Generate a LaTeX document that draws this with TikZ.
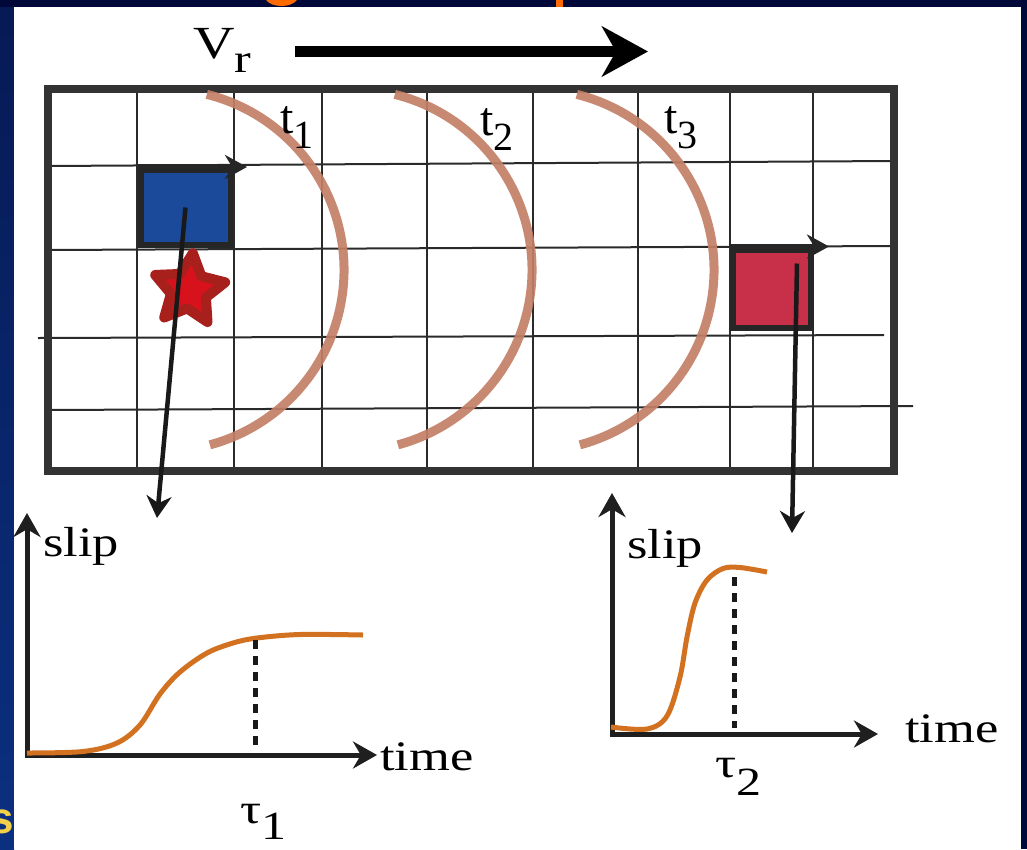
\documentclass[tikz,border=0pt]{standalone}
\usepackage{fontspec}
\newfontfamily\figfont{Liberation Serif}[FakeStretch=1.25]
\newfontfamily\plainfont{Liberation Serif}
\newfontfamily\slidefont{Liberation Sans}
\usetikzlibrary{arrows.meta,positioning,shapes.geometric,calc}
\definecolor{slidebg}{HTML}{00083A}
\definecolor{stripdark}{HTML}{061A55}
\definecolor{striplight}{HTML}{0B3080}
\definecolor{titleorange}{HTML}{FF6A00}
\definecolor{titleyellow}{HTML}{F2D04A}
\definecolor{gridgray}{HTML}{2A2A2A}
\definecolor{framegray}{HTML}{333333}
\definecolor{arcbrown}{HTML}{C47F66}
\definecolor{srcblue}{HTML}{1B4A9A}
\definecolor{rcvred}{HTML}{C8304A}
\definecolor{starred}{HTML}{D8121C}
\definecolor{stardark}{HTML}{A8201C}
\definecolor{sliporange}{HTML}{D2711F}
\newcommand{\axisfont}{\figfont\fontsize{42}{46}\selectfont}
\newcommand{\wavefont}{\plainfont\fontsize{48}{52}\selectfont}
\newcommand{\lowsub}[2]{\raisebox{-#1pt}{\fontsize{40}{44}\selectfont#2}}

\begin{document}
\begin{tikzpicture}[x=1pt,y=-1pt,
  >={Stealth[length=22pt,width=25pt]},
  lbl/.style={anchor=base west, inner sep=0pt, font=\axisfont},
  gridline/.style={draw=gridgray, line width=2pt},
  frame/.style={draw=framegray, line width=8pt, minimum width=846pt, minimum height=382pt, inner sep=0pt},
  front/.style={draw=arcbrown, line width=9pt, opacity=0.92},
  station/.style={draw=black!85, line width=6pt, inner sep=0pt},
  edgearrow/.style={draw=black!85, line width=6pt, -{Stealth[length=22pt,width=24pt]}},
  pointer/.style={draw=black!90, line width=4.5pt, ->},
  axis/.style={draw=black!88, line width=5pt, line join=miter, {Stealth[length=24pt,width=27pt]}-{Stealth[length=24pt,width=27pt]}},
  slipcurve/.style={draw=sliporange, line width=5pt, smooth, tension=0.55},
  marker/.style={draw=black!90, line width=5pt, dash pattern=on 9pt off 7pt},
]
\useasboundingbox (0,0) rectangle (1027,849);
\fill[slidebg] (0,0) rectangle (1027,849);
\shade[top color=stripdark, bottom color=striplight] (0,7) rectangle (14,849);
\fill[white] (14,7) rectangle (1021,849);
\fill[titleorange] (266,0) .. controls (272,8) and (291,8) .. (297,0) -- cycle;
\fill[titleorange] (556,0) rectangle (563,7);
\begin{scope}
  \clip (0,7) rectangle (14,849);
  \node[anchor=base west, inner sep=0pt, text=titleyellow, font=\slidefont\bfseries\fontsize{44}{48}\selectfont] (titles) at (-11,833) {s};
\end{scope}

\node[lbl, font=\figfont\fontsize{46}{50}\selectfont] (vr) at (193,58) {V\lowsub{14}{r}};
\coordinate (vrs) at (295,51.5);
\coordinate (vre) at (648,51.5);
\draw[line width=11pt, -{Stealth[length=46pt,width=50pt,inset=14pt]}] (vrs) -- (vre);

\foreach \gx in {137,234,322,427,533,638,730,813}
  \draw[gridline] (\gx,89) -- (\gx,471);
\draw[gridline] (48,166) -- (894,161);
\draw[gridline] (48,250) -- (894,246);
\draw[gridline] (38,338) -- (884,335);
\draw[gridline] (48,410) -- (913,406);
\node[frame] (fault) at (471,280) {};

\foreach \cx in {163,351,533}
  \draw[front] (\cx,270) ++(-76:181) arc[start angle=-76, end angle=75, radius=181];
\node[lbl, font=\wavefont] (t1) at (280,133) {t\lowsub{15}{1}};
\node[lbl, font=\wavefont] (t2) at (480,135) {t\lowsub{15}{2}};
\node[lbl, font=\wavefont] (t3) at (664,133) {t\lowsub{15}{3}};

\node[station, fill=srcblue, minimum width=90pt, minimum height=75pt] (src) at (185.5,207.5) {};
\node[station, fill=rcvred, minimum width=78pt, minimum height=78pt] (rcv) at (772,288.5) {};
\coordinate (srctip) at (247,170);
\coordinate (rcvtip) at (829,249.5);
\draw[edgearrow] (src.north west) -- (src.north west -| srctip);
\draw[edgearrow] (rcv.north west) -- (rcv.north west -| rcvtip);
\node[star, star points=5, star point ratio=2.0, minimum size=74pt, inner sep=0pt,
  fill=starred, draw=stardark, line width=10pt, line join=round, rotate=-6] (epi) at (189,290) {};

\coordinate (o1) at (27,755);
\coordinate (y1) at (27,513);
\coordinate (x1) at (377,755);
\coordinate (o2) at (612,734);
\coordinate (y2) at (612,493);
\coordinate (x2) at (878,734);
\coordinate (tap2) at ($(rcv.center)+(25,-25)$);
\draw[pointer] (src.center) -- (157,518) coordinate (tip1);
\draw[pointer] (tap2) -- (792,533) coordinate (tip2);

\draw[axis] (y1) -- (o1) -- (x1);
\draw[slipcurve] plot coordinates {(27,753) (83,751.5) (117,743) (140,725) (160,694) (180,672) (207,653) (233,643) (257,638) (300,634.5) (363,635)};
\coordinate (peak1) at (255,640);
\draw[marker] (peak1) -- ++(0,105);
\node[lbl] (slip1) at (43,556) {slip};
\node[lbl] (time1) at (380,770) {time};
\node[lbl] (tau1) at (240,823) {τ\lowsub{16}{1}};

\draw[axis] (y2) -- (o2) -- (x2);
\draw[slipcurve] plot coordinates {(611,727) (647,729) (667,716) (680,677) (687,637) (695,603) (707,580) (723,568.5) (740,567.5) (767,572)};
\coordinate (peak2) at (734,577);
\draw[marker] (peak2) -- ++(0,151);
\node[lbl] (slip2) at (627,558) {slip};
\node[lbl] (time2) at (905,742) {time};
\node[lbl] (tau2) at (715,777) {τ\lowsub{18}{2}};
\end{tikzpicture}
\end{document}
